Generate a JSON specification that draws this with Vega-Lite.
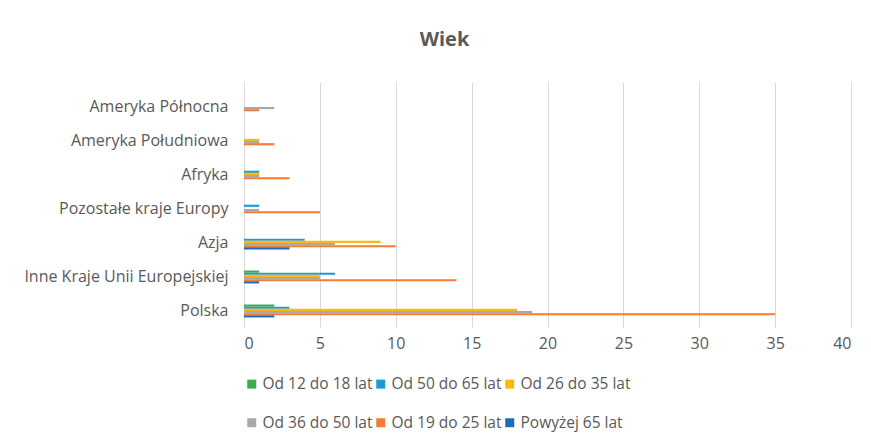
{
  "$schema": "https://vega.github.io/schema/vega-lite/v6.json",
  "width": 607,
  "height": 245,
  "autosize": "none",
  "padding": {"left": 244, "top": 82, "right": 20, "bottom": 113},
  "background": "white",
  "title": {"text": "Wiek", "fontSize": 20, "fontWeight": "bold", "color": "#595959", "font": "Open Sans", "offset": 32, "anchor": "middle", "frame": "group", "dx": -103},
  "config": {
    "view": {"stroke": null},
    "font": "Open Sans",
    "axis": {"labelColor": "#595959", "labelFont": "Open Sans", "labelFontSize": 16, "labelLimit": 300, "gridColor": "#D9D9D9", "gridWidth": 1, "domain": false, "ticks": false, "title": null}
  },
  "data": {
    "values": [
      {"kraj": "Polska", "wiek": "Od 12 do 18 lat", "n": 2},
      {"kraj": "Polska", "wiek": "Od 50 do 65 lat", "n": 3},
      {"kraj": "Polska", "wiek": "Od 26 do 35 lat", "n": 18},
      {"kraj": "Polska", "wiek": "Od 36 do 50 lat", "n": 19},
      {"kraj": "Polska", "wiek": "Od 19 do 25 lat", "n": 35},
      {"kraj": "Polska", "wiek": "Powyżej 65 lat", "n": 2},
      {"kraj": "Inne Kraje Unii Europejskiej", "wiek": "Od 12 do 18 lat", "n": 1},
      {"kraj": "Inne Kraje Unii Europejskiej", "wiek": "Od 50 do 65 lat", "n": 6},
      {"kraj": "Inne Kraje Unii Europejskiej", "wiek": "Od 26 do 35 lat", "n": 5},
      {"kraj": "Inne Kraje Unii Europejskiej", "wiek": "Od 36 do 50 lat", "n": 5},
      {"kraj": "Inne Kraje Unii Europejskiej", "wiek": "Od 19 do 25 lat", "n": 14},
      {"kraj": "Inne Kraje Unii Europejskiej", "wiek": "Powyżej 65 lat", "n": 1},
      {"kraj": "Azja", "wiek": "Od 50 do 65 lat", "n": 4},
      {"kraj": "Azja", "wiek": "Od 26 do 35 lat", "n": 9},
      {"kraj": "Azja", "wiek": "Od 36 do 50 lat", "n": 6},
      {"kraj": "Azja", "wiek": "Od 19 do 25 lat", "n": 10},
      {"kraj": "Azja", "wiek": "Powyżej 65 lat", "n": 3},
      {"kraj": "Pozostałe kraje Europy", "wiek": "Od 50 do 65 lat", "n": 1},
      {"kraj": "Pozostałe kraje Europy", "wiek": "Od 36 do 50 lat", "n": 1},
      {"kraj": "Pozostałe kraje Europy", "wiek": "Od 19 do 25 lat", "n": 5},
      {"kraj": "Afryka", "wiek": "Od 50 do 65 lat", "n": 1},
      {"kraj": "Afryka", "wiek": "Od 26 do 35 lat", "n": 1},
      {"kraj": "Afryka", "wiek": "Od 36 do 50 lat", "n": 1},
      {"kraj": "Afryka", "wiek": "Od 19 do 25 lat", "n": 3},
      {"kraj": "Ameryka Południowa", "wiek": "Od 26 do 35 lat", "n": 1},
      {"kraj": "Ameryka Południowa", "wiek": "Od 36 do 50 lat", "n": 1},
      {"kraj": "Ameryka Południowa", "wiek": "Od 19 do 25 lat", "n": 2},
      {"kraj": "Ameryka Północna", "wiek": "Od 36 do 50 lat", "n": 2},
      {"kraj": "Ameryka Północna", "wiek": "Od 19 do 25 lat", "n": 1}
    ]
  },
  "mark": {"type": "bar"},
  "encoding": {
    "y": {
      "field": "kraj", "type": "nominal",
      "sort": ["Ameryka Północna", "Ameryka Południowa", "Afryka", "Pozostałe kraje Europy", "Azja", "Inne Kraje Unii Europejskiej", "Polska"],
      "scale": {"paddingInner": 0.62, "paddingOuter": 0.413, "align": 0.66},
      "axis": {"grid": false, "labelPadding": 16}
    },
    "yOffset": {
      "field": "wiek", "type": "nominal",
      "scale": {"domain": ["Od 12 do 18 lat", "Od 50 do 65 lat", "Od 26 do 35 lat", "Od 36 do 50 lat", "Od 19 do 25 lat", "Powyżej 65 lat"], "paddingInner": 0, "paddingOuter": 0}
    },
    "x": {
      "field": "n", "type": "quantitative",
      "scale": {"domain": [0, 40], "nice": false},
      "axis": {"values": [0, 5, 10, 15, 20, 25, 30, 35, 40], "labelPadding": 8, "grid": true}
    },
    "color": {
      "field": "wiek", "type": "nominal",
      "scale": {
        "domain": ["Od 12 do 18 lat", "Od 50 do 65 lat", "Od 26 do 35 lat", "Od 36 do 50 lat", "Od 19 do 25 lat", "Powyżej 65 lat"],
        "range": ["#3AAE49", "#1C9AD6", "#FDB714", "#A9A9AB", "#F37B35", "#1E6BB8"]
      },
      "legend": {
        "title": null, "orient": "none", "legendX": 0, "legendY": 294,
        "direction": "horizontal", "columns": 3, "columnPadding": 0, "rowPadding": 22,
        "symbolType": "square", "symbolSize": 81, "symbolStrokeWidth": 0, "symbolOffset": 0,
        "labelFontSize": 15.5, "labelColor": "#595959", "labelFont": "Open Sans", "labelOffset": 3
      }
    }
  }
}
